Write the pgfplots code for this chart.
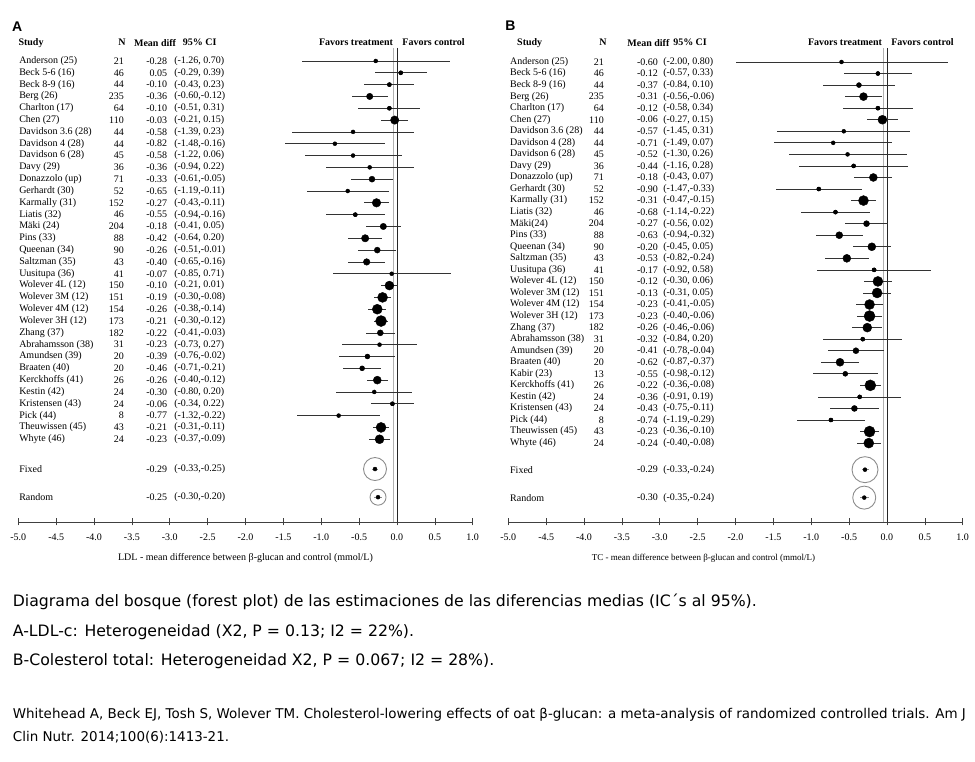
\documentclass[border=0pt]{standalone}
\usepackage{pgfplots}
\pgfplotsset{compat=1.18}
\usepackage{pgfplotstable}
\usepackage{fontspec}
\setmainfont{Liberation Serif}
\newfontfamily\arialf{Liberation Sans}
\newfontfamily\capfont{DejaVu Sans}
\newcommand\fs{\fontsize{10}{12}\selectfont}

\pgfplotstableread[col sep=semicolon]{
row;name;n;md;lo;hi;r;mdt;cit
1;Anderson (25);21;-0.28;-1.26;0.70;1.0;-0.28;(-1.26, 0.70)
2;Beck 5-6 (16);46;0.05;-0.29;0.39;2.0;0.05;(-0.29, 0.39)
3;Beck 8-9 (16);44;-0.10;-0.43;0.23;2.0;-0.10;(-0.43, 0.23)
4;Berg (26);235;-0.36;-0.60;-0.12;3.2;-0.36;(-0.60,-0.12)
5;Charlton (17);64;-0.10;-0.51;0.31;2.0;-0.10;(-0.51, 0.31)
6;Chen (27);110;-0.03;-0.21;0.15;4.2;-0.03;(-0.21, 0.15)
7;Davidson 3.6 (28);44;-0.58;-1.39;0.23;1.0;-0.58;(-1.39, 0.23)
8;Davidson 4 (28);44;-0.82;-1.48;-0.16;1.3;-0.82;(-1.48,-0.16)
9;Davidson 6 (28);45;-0.58;-1.22;0.06;1.5;-0.58;(-1.22, 0.06)
10;Davy (29);36;-0.36;-0.94;0.22;1.3;-0.36;(-0.94, 0.22)
11;Donazzolo (up);71;-0.33;-0.61;-0.05;3.0;-0.33;(-0.61,-0.05)
12;Gerhardt (30);52;-0.65;-1.19;-0.11;1.5;-0.65;(-1.19,-0.11)
13;Karmally (31);152;-0.27;-0.43;-0.11;4.3;-0.27;(-0.43,-0.11)
14;Liatis (32);46;-0.55;-0.94;-0.16;2.0;-0.55;(-0.94,-0.16)
15;Mäki (24);204;-0.18;-0.41;0.05;3.2;-0.18;(-0.41, 0.05)
16;Pins (33);88;-0.42;-0.64;-0.20;3.7;-0.42;(-0.64, 0.20)
17;Queenan (34);90;-0.26;-0.51;-0.01;3.0;-0.26;(-0.51,-0.01)
18;Saltzman (35);43;-0.40;-0.65;-0.16;3.3;-0.40;(-0.65,-0.16)
19;Uusitupa (36);41;-0.07;-0.85;0.71;1.0;-0.07;(-0.85, 0.71)
20;Wolever 4L (12);150;-0.10;-0.21;0.01;4.5;-0.10;(-0.21, 0.01)
21;Wolever 3M (12);151;-0.19;-0.30;-0.08;5.0;-0.19;(-0.30,-0.08)
22;Wolever 4M (12);154;-0.26;-0.38;-0.14;5.0;-0.26;(-0.38,-0.14)
23;Wolever 3H (12);173;-0.21;-0.30;-0.12;5.5;-0.21;(-0.30,-0.12)
24;Zhang (37);182;-0.22;-0.41;-0.03;3.0;-0.22;(-0.41,-0.03)
25;Abrahamsson (38);31;-0.23;-0.73;0.27;1.0;-0.23;(-0.73, 0.27)
26;Amundsen (39);20;-0.39;-0.76;-0.02;2.5;-0.39;(-0.76,-0.02)
27;Braaten (40);20;-0.46;-0.71;-0.21;2.5;-0.46;(-0.71,-0.21)
28;Kerckhoffs (41);26;-0.26;-0.40;-0.12;4.0;-0.26;(-0.40,-0.12)
29;Kestin (42);24;-0.30;-0.80;0.20;1.3;-0.30;(-0.80, 0.20)
30;Kristensen (43);24;-0.06;-0.34;0.22;2.0;-0.06;(-0.34, 0.22)
31;Pick (44);8;-0.77;-1.32;-0.22;1.0;-0.77;(-1.32,-0.22)
32;Theuwissen (45);43;-0.21;-0.31;-0.11;5.0;-0.21;(-0.31,-0.11)
33;Whyte (46);24;-0.23;-0.37;-0.09;4.5;-0.23;(-0.37,-0.09)
}\tA

\pgfplotstableread[col sep=semicolon]{
row;name;md;lo;hi;r;mdt;cit
35.52;Fixed;-0.29;-0.33;-0.25;11.5;-0.29;(-0.33,-0.25)
37.9;Random;-0.25;-0.30;-0.20;8;-0.25;(-0.30,-0.20)
}\pA

\pgfplotstableread[col sep=semicolon]{
row;name;n;md;lo;hi;r;mdt;cit
1;Anderson (25);21;-0.60;-2.00;0.80;1.0;-0.60;(-2.00, 0.80)
2;Beck 5-6 (16);46;-0.12;-0.57;0.33;2.0;-0.12;(-0.57, 0.33)
3;Beck 8-9 (16);44;-0.37;-0.84;0.10;2.5;-0.37;(-0.84, 0.10)
4;Berg (26);235;-0.31;-0.56;-0.06;4.0;-0.31;(-0.56,-0.06)
5;Charlton (17);64;-0.12;-0.58;0.34;2.0;-0.12;(-0.58, 0.34)
6;Chen (27);110;-0.06;-0.27;0.15;4.5;-0.06;(-0.27, 0.15)
7;Davidson 3.6 (28);44;-0.57;-1.45;0.31;1.5;-0.57;(-1.45, 0.31)
8;Davidson 4 (28);44;-0.71;-1.49;0.07;1.5;-0.71;(-1.49, 0.07)
9;Davidson 6 (28);45;-0.52;-1.30;0.26;1.5;-0.52;(-1.30, 0.26)
10;Davy (29);36;-0.44;-1.16;0.28;2.0;-0.44;(-1.16, 0.28)
11;Donazzolo (up);71;-0.18;-0.43;0.07;4.0;-0.18;(-0.43, 0.07)
12;Gerhardt (30);52;-0.90;-1.47;-0.33;2.0;-0.90;(-1.47,-0.33)
13;Karmally (31);152;-0.31;-0.47;-0.15;5.0;-0.31;(-0.47,-0.15)
14;Liatis (32);46;-0.68;-1.14;-0.22;2.0;-0.68;(-1.14,-0.22)
15;Mäki(24);204;-0.27;-0.56;0.02;3.0;-0.27;(-0.56, 0.02)
16;Pins (33);88;-0.63;-0.94;-0.32;3.5;-0.63;(-0.94,-0.32)
17;Queenan (34);90;-0.20;-0.45;0.05;4.0;-0.20;(-0.45, 0.05)
18;Saltzman (35);43;-0.53;-0.82;-0.24;4.0;-0.53;(-0.82,-0.24)
19;Uusitupa (36);41;-0.17;-0.92;0.58;2.0;-0.17;(-0.92, 0.58)
20;Wolever 4L (12);150;-0.12;-0.30;0.06;5.0;-0.12;(-0.30, 0.06)
21;Wolever 3M (12);151;-0.13;-0.31;0.05;5.0;-0.13;(-0.31, 0.05)
22;Wolever 4M (12);154;-0.23;-0.41;-0.05;5.0;-0.23;(-0.41,-0.05)
23;Wolever 3H (12);173;-0.23;-0.40;-0.06;5.5;-0.23;(-0.40,-0.06)
24;Zhang (37);182;-0.26;-0.46;-0.06;4.5;-0.26;(-0.46,-0.06)
25;Abrahamsson (38);31;-0.32;-0.84;0.20;2.0;-0.32;(-0.84, 0.20)
26;Amundsen (39);20;-0.41;-0.78;-0.04;3.0;-0.41;(-0.78,-0.04)
27;Braaten (40);20;-0.62;-0.87;-0.37;4.0;-0.62;(-0.87,-0.37)
28;Kabir (23);13;-0.55;-0.98;-0.12;2.5;-0.55;(-0.98,-0.12)
29;Kerckhoffs (41);26;-0.22;-0.36;-0.08;5.5;-0.22;(-0.36,-0.08)
30;Kestin (42);24;-0.36;-0.91;0.19;2.0;-0.36;(-0.91, 0.19)
31;Kristensen (43);24;-0.43;-0.75;-0.11;3.0;-0.43;(-0.75,-0.11)
32;Pick (44);8;-0.74;-1.19;-0.29;2.0;-0.74;(-1.19,-0.29)
33;Theuwissen (45);43;-0.23;-0.36;-0.10;5.5;-0.23;(-0.36,-0.10)
34;Whyte (46);24;-0.24;-0.40;-0.08;5.0;-0.24;(-0.40,-0.08)
}\tB

\pgfplotstableread[col sep=semicolon]{
row;name;md;lo;hi;r;mdt;cit
36.3;Fixed;-0.29;-0.33;-0.24;13;-0.29;(-0.33,-0.24)
38.72;Random;-0.30;-0.35;-0.24;11.5;-0.30;(-0.35,-0.24)
}\pB

\pgfplotsset{
  fp/.style={scale only axis, xmin=-5, xmax=1, ymax=3, clip=false,
    axis x line*=bottom, axis y line=none, ytick=\empty,
    xtick={-5,-4.5,...,1}, tick align=center, major tick length=7pt,
    x axis line style={black!75, line width=0.8pt},
    tick style={black!75, line width=0.6pt},
    xticklabel style={font=\fs, yshift=-5pt},
    xticklabel={\pgfmathprintnumber[fixed,fixed zerofill,precision=1,assume math mode=true]{\tick}}},
  txt/.style={only marks, mark=*, mark size=0pt, mark options={draw=none, fill=none},
    point meta=explicit symbolic, nodes near coords,
    every node near coord/.append style={anchor=#1, inner sep=0pt, text=black, font=\fs}},
  cis/.style={only marks, mark=none, error bars/.cd, x dir=both, x explicit, error mark=none,
    error bar style={#1}},
  dots/.style={only marks, mark=*, scatter, scatter/use mapped color={draw=black, fill=black},
    visualization depends on={\thisrow{r}\as\rad},
    scatter/@pre marker code/.append style={/tikz/mark size=\rad}},
  pooled/.style={only marks, mark=o, scatter, scatter/use mapped color={draw=black!45, fill=none},
    mark options={line width=0.9pt},
    visualization depends on={\thisrow{r}\as\rad},
    scatter/@pre marker code/.append style={/tikz/mark size=\rad}},
}
\tikzset{hd/.style={font=\bfseries\fs, inner sep=0pt}}

\begin{document}
\begin{tikzpicture}
\useasboundingbox (0pt,0pt) rectangle (975pt,762pt);

% ---------------- Panel A ----------------
\begin{axis}[fp, at={(18.3pt,240pt)}, anchor=south west, width=454.4pt, height=508.3pt, ymin=-40,
  xlabel={LDL - mean difference between β-glucan and control (mmol/L)},
  xlabel style={font=\fs, yshift=-6pt}]
\addplot[black!85, line width=0.8pt] coordinates {(0,0.1) (0,-40)};
\addplot[black!30, line width=0.6pt] coordinates {(-0.05,0.1) (-0.05,-40)};
\addplot[cis={black!80, line width=0.7pt}] table[x=md, y expr=-\thisrow{row},
  x error plus expr=\thisrow{hi}-\thisrow{md}, x error minus expr=\thisrow{md}-\thisrow{lo}] {\tA};
\addplot[dots] table[x=md, y expr=-\thisrow{row}] {\tA};
\addplot[cis={black!45, line width=0.7pt}] table[x=md, y expr=-\thisrow{row},
  x error plus expr=\thisrow{hi}-\thisrow{md}, x error minus expr=\thisrow{md}-\thisrow{lo}] {\pA};
\addplot[pooled] table[x=md, y expr=-\thisrow{row}] {\pA};
% table text
\addplot[txt=west] table[x expr=-4.99, y expr=-\thisrow{row}, meta=name] {\tA};
\addplot[txt=east] table[x expr=-3.604, y expr=-\thisrow{row}, meta=n] {\tA};
\addplot[txt=east] table[x expr=-3.032, y expr=-\thisrow{row}, meta=mdt] {\tA};
\addplot[txt=west] table[x expr=-2.943, y expr=-\thisrow{row}, meta=cit] {\tA};
\addplot[txt=west] table[x expr=-4.99, y expr=-\thisrow{row}, meta=name] {\pA};
\addplot[txt=east] table[x expr=-3.032, y expr=-\thisrow{row}, meta=mdt] {\pA};
\addplot[txt=west] table[x expr=-2.943, y expr=-\thisrow{row}, meta=cit] {\pA};
% headers
\node[font=\arialf\bfseries\fontsize{14}{16}\selectfont, anchor=west, inner sep=0pt] at (axis cs:-5.083,1.88) {A};
\node[hd, anchor=west] at (axis cs:-5,0.548) {Study};
\node[hd] at (axis cs:-3.63,0.548) {N};
\node[hd] at (axis cs:-3.194,0.548) {Mean diff};
\node[hd] at (axis cs:-2.606,0.548) {95\% CI};
\node[hd, anchor=base east] at (axis cs:-0.05,0.3) {Favors treatment};
\node[hd, anchor=base west] at (axis cs:0.069,0.3) {Favors control};
\end{axis}

% ---------------- Panel B ----------------
\begin{axis}[fp, at={(508.3pt,240pt)}, anchor=south west, width=454.4pt, height=506.2pt, ymin=-40.83,
  xlabel={TC - mean difference between β-glucan and control (mmol/L)},
  xlabel style={xshift=-32pt, yshift=-6pt, font=\fontsize{9}{11}\selectfont}]
\addplot[black!85, line width=0.8pt] coordinates {(0,0.21) (0,-40.83)};
\addplot[black!30, line width=0.6pt] coordinates {(-0.05,0.21) (-0.05,-40.83)};
\addplot[cis={black!80, line width=0.7pt}] table[x=md, y expr=-\thisrow{row},
  x error plus expr=\thisrow{hi}-\thisrow{md}, x error minus expr=\thisrow{md}-\thisrow{lo}] {\tB};
\addplot[dots] table[x=md, y expr=-\thisrow{row}] {\tB};
\addplot[cis={black!45, line width=0.7pt}] table[x=md, y expr=-\thisrow{row},
  x error plus expr=\thisrow{hi}-\thisrow{md}, x error minus expr=\thisrow{md}-\thisrow{lo}] {\pB};
\addplot[pooled] table[x=md, y expr=-\thisrow{row}] {\pB};
\addplot[txt=west] table[x expr=-4.978, y expr=-\thisrow{row}, meta=name] {\tB};
\addplot[txt=east] table[x expr=-3.736, y expr=-\thisrow{row}, meta=n] {\tB};
\addplot[txt=east] table[x expr=-3.022, y expr=-\thisrow{row}, meta=mdt] {\tB};
\addplot[txt=west] table[x expr=-2.956, y expr=-\thisrow{row}, meta=cit] {\tB};
\addplot[txt=west] table[x expr=-4.978, y expr=-\thisrow{row}, meta=name] {\pB};
\addplot[txt=east] table[x expr=-3.022, y expr=-\thisrow{row}, meta=mdt] {\pB};
\addplot[txt=west] table[x expr=-2.956, y expr=-\thisrow{row}, meta=cit] {\pB};
\node[font=\arialf\bfseries\fontsize{14}{16}\selectfont, anchor=west, inner sep=0pt] at (axis cs:-5.04,2.12) {B};
\node[hd, anchor=west] at (axis cs:-4.885,0.67) {Study};
\node[hd] at (axis cs:-3.75,0.67) {N};
\node[hd] at (axis cs:-3.15,0.67) {Mean diff};
\node[hd] at (axis cs:-2.60,0.67) {95\% CI};
\node[hd, anchor=base east] at (axis cs:-0.063,0.42) {Favors treatment};
\node[hd, anchor=base west] at (axis cs:0.054,0.42) {Favors control};
\end{axis}

% ---------------- Caption ----------------
\begin{scope}[every node/.style={anchor=west, inner sep=0pt}]
\node[font=\capfont\fontsize{15.7}{18}\selectfont] at (12.7pt,160pt) {Diagrama del bosque (forest plot) de las estimaciones de las diferencias medias (IC´s al 95\%).};
\node[font=\capfont\fontsize{15.7}{18}\selectfont] at (12.7pt,130pt) {A-LDL-c: Heterogeneidad (X2, P = 0.13; I2 = 22\%).};
\node[font=\capfont\fontsize{15.7}{18}\selectfont] at (12.7pt,101pt) {B-Colesterol total: Heterogeneidad X2, P = 0.067; I2 = 28\%).};
\node[font=\capfont\fontsize{13.45}{15}\selectfont] at (12.7pt,47pt) {Whitehead A, Beck EJ, Tosh S, Wolever TM. Cholesterol-lowering effects of oat β-glucan: a meta-analysis of randomized controlled trials. Am J};
\node[font=\capfont\fontsize{13.45}{15}\selectfont] at (12.7pt,25pt) {Clin Nutr. 2014;100(6):1413-21.};
\end{scope}
\end{tikzpicture}
\end{document}
